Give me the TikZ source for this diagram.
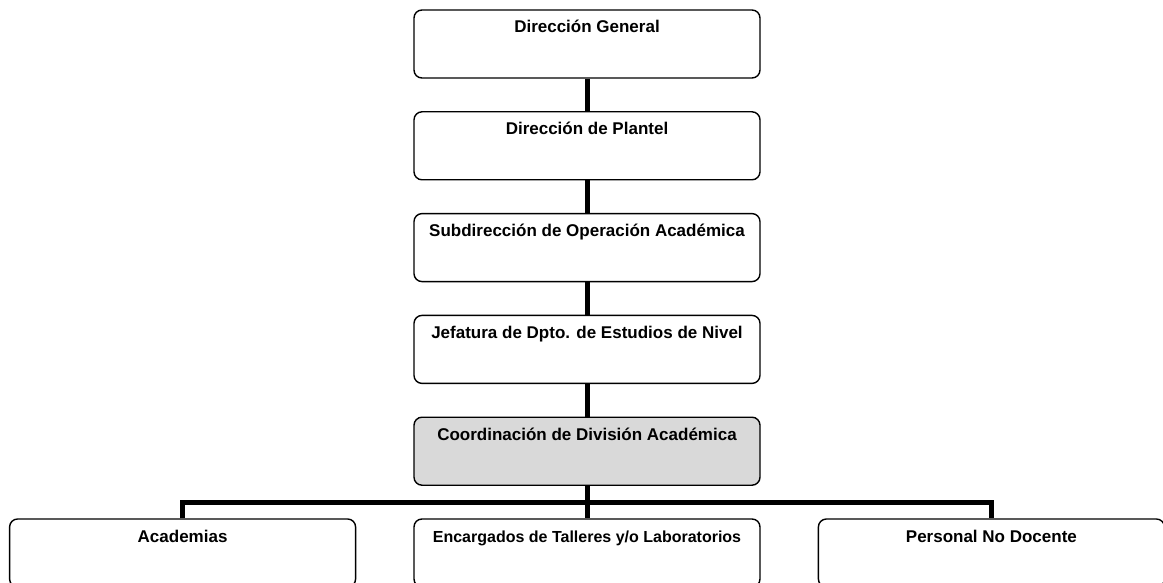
\documentclass[tikz,border=0pt]{standalone}
\usepackage{fontspec}
\setmainfont{Liberation Sans}
\usetikzlibrary{positioning, calc}

\tikzset{
  puesto/.style={draw, line width=1.4pt, rounded corners=8pt, fill=white,
    minimum width=346pt, minimum height=68pt, inner xsep=4pt, inner ysep=8pt,
    text height=15pt, text depth=37pt, font=\fontsize{17}{20}\selectfont\bfseries},
  enlace/.style={line width=5pt}
}

\begin{document}
\begin{tikzpicture}[x=1pt, y=-1pt, node distance=32.4pt]
\useasboundingbox (0,0) rectangle (1163,583);

\node[puesto] (dg) at (587,44) {Dirección General};
\node[puesto, below=of dg] (dp) {Dirección de Plantel};
\node[puesto, below=of dp] (soa) {Subdirección de Operación Académica};
\node[puesto, below=of soa] (jde) {Jefatura de Dpto. de Estudios de Nivel};
\node[puesto, below=of jde, fill=gray!30] (cda) {Coordinación de División Académica};

\node[puesto, below=of cda, font=\fontsize{16}{19}\selectfont\bfseries] (etl) {Encargados de Talleres y/o Laboratorios};
\node[puesto, left=57pt of etl] (acad) {Academias};
\node[puesto, right=57pt of etl] (pnd) {Personal No Docente};

\coordinate (bus) at ($(cda.south)!0.5!(etl.north)$);

\draw[enlace] (dg.south) -- (dp.north);
\draw[enlace] (dp.south) -- (soa.north);
\draw[enlace] (soa.south) -- (jde.north);
\draw[enlace] (jde.south) -- (cda.north);
\draw[enlace] (cda.south) -- (etl.north);
\draw[enlace] (acad.north) |- (bus) -| (pnd.north);
\end{tikzpicture}
\end{document}
